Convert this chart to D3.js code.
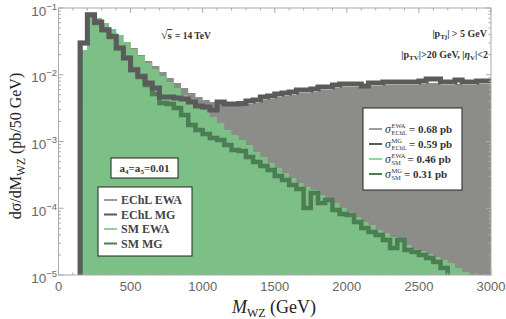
<!DOCTYPE html>
<html><head><meta charset="utf-8">
<script src="https://cdn.jsdelivr.net/npm/d3@7"></script>
<style>body{margin:0;background:#fff}svg{display:block}</style>
</head><body>
<svg id="chart" width="506" height="319"></svg>
<script>
// ── data: dσ/dM_WZ per 50 GeV bin, bins start at 150 GeV ──
const BIN=50;
const binLow=d3.range(150,3000,BIN);
const echlEWA=[0.0235,0.0759,0.0708,0.0596,0.0484,0.0394,0.0310,0.0252,0.0198,0.0161,
  0.0135,0.0110,0.00893,0.00752,0.00632,0.00533,0.00465,0.00418,0.00391,0.00365,
  0.00352,0.00352,0.00352,0.00365,0.00378,0.00418,0.00434,0.00465,0.00481,0.00497,
  0.00533,0.00533,0.00552,0.00591,0.00591,0.00632,0.00655,0.00655,0.00655,0.00655,
  0.00678,0.00678,0.00702,0.00702,0.00702,0.00702,0.00702,0.00727,0.00752,0.00752,
  0.00702,0.00702,0.00727,0.00702,0.00702,0.00727,0.00727];
const echlMG=[0.0299,0.0794,0.0617,0.0473,0.0377,0.0252,0.0178,0.0119,0.00948,0.00752,
  0.00632,0.00465,0.00465,0.00449,0.00434,0.00391,0.00341,0.00329,0.00296,0.00391,
  0.00365,0.00365,0.00370,0.00405,0.00418,0.00465,0.00481,0.00515,0.00533,0.00550,
  0.00591,0.00591,0.00612,0.00655,0.00655,0.00702,0.00727,0.00727,0.00727,0.00678,
  0.00752,0.00752,0.00778,0.00778,0.00778,0.00778,0.00778,0.00805,0.00863,0.00863,
  0.00778,0.00778,0.00834,0.00778,0.00778,0.00805,0.00805];
const smEWA=[0.0235,0.0759,0.0708,0.0596,0.0484,0.0394,0.0310,0.0243,0.0191,0.0150,
  0.0122,0.00957,0.00778,0.00632,0.00497,0.00419,0.00352,0.00296,0.00233,0.00189,
  0.00149,0.00125,0.00105,0.000887,0.000697,0.000586,0.000476,0.000401,0.000337,0.000284,
  0.000239,0.000208,0.000188,0.000158,0.000133,0.000120,0.000101,0.0000879,0.0000740,0.0000622,
  0.0000561,0.0000472,0.0000426,0.0000371,0.0000334,0.0000281,0.0000245,0.0000229,0.0000206,0.0000186,
  0.0000168,0.0000151,0.0000127,0.0000111];
const smMG=[0.0299,0.0785,0.0596,0.0468,0.0368,0.0252,0.0178,0.0118,0.00925,0.00702,
  0.00515,0.00378,0.00365,0.00318,0.00250,0.00177,0.00149,0.00129,0.00113,0.00105,
  0.000887,0.000746,0.000721,0.000586,0.000493,0.000430,0.000374,0.000304,0.000265,0.000223,
  0.000194,0.000101,0.000169,0.000120,0.000133,0.0000942,0.0000820,0.0000792,0.0000622,0.0000506,
  0.0000441,0.0000397,0.0000334,0.0000254,0.0000334,0.0000237,0.0000221,0.0000200,0.0000180,0.0000157,
  0.0000127];
const xTicks=[0,500,1000,1500,2000,2500,3000];
const yTicks=[1e-5,1e-4,1e-3,1e-2,1e-1];
const yExp=['−5','−4','−3','−2','−1'];
const legendNames=['EChL EWA','EChL MG','SM EWA','SM MG'];
const sigmaSup=['EWA','MG','EWA','MG'];
const sigmaSub=['EChL','EChL','SM','SM'];
const sigmaVal=['0.68','0.59','0.46','0.31'];

// ── layout / style ──
const M={l:58.5,r:491,t:8,b:275};
const COL={grayFill:'#8c8c89',greenFill:'#7cbf87',echlMG:'#5b5b5b',smMG:'#4d7d52',
  frame:'#aaaaaa',tick:'#666',legEWA:'#9c9c9c',legSMEWA:'#8fd49a'};
const SERIF='"Liberation Serif","DejaVu Serif",serif';
const SANS='"Liberation Sans",Arial,sans-serif';
const FLOOR=1e-6;

const svg=d3.select('#chart');
const x=d3.scaleLinear().domain([0,3000]).range([M.l,M.r]);
const y=d3.scaleLog().domain([1e-5,1e-1]).range([M.b,M.t]);

svg.append('clipPath').attr('id','plot').append('rect')
  .attr('x',M.l).attr('y',M.t).attr('width',M.r-M.l).attr('height',M.b-M.t);

function steps(vals){
  const pts=vals.map((v,i)=>[binLow[i],v]);
  pts.push([binLow[vals.length-1]+BIN,vals[vals.length-1]]);
  return pts;
}
const area=d3.area().curve(d3.curveStepAfter).x(d=>x(d[0])).y0(M.b).y1(d=>y(d[1]));
const line=d3.line().curve(d3.curveStepAfter).x(d=>x(d[0])).y(d=>y(d[1]));

const g=svg.append('g').attr('clip-path','url(#plot)');
g.append('path').attr('d',area(steps(echlEWA))).attr('fill',COL.grayFill);
g.append('path').attr('d',area(steps(smEWA))).attr('fill',COL.greenFill);
// MG lines rise from below the axis; SM MG drops back down where it ends
const smPts=[[binLow[0],FLOOR],...steps(smMG)];
smPts.push([smPts[smPts.length-1][0],FLOOR]);
g.append('path').attr('d',line(smPts)).attr('fill','none')
  .attr('stroke',COL.smMG).attr('stroke-width',4.5);
g.append('path').attr('d',line([[binLow[0],FLOOR],...steps(echlMG)])).attr('fill','none')
  .attr('stroke',COL.echlMG).attr('stroke-width',5);

// ── frame + ticks on all four sides ──
const fr=svg.append('g').attr('stroke',COL.frame).attr('fill','none');
fr.append('rect').attr('x',M.l).attr('y',M.t).attr('width',M.r-M.l).attr('height',M.b-M.t);
d3.range(0,3001,100).forEach(v=>{
  const len=v%500===0?5:2.5, px=x(v);
  fr.append('line').attr('x1',px).attr('x2',px).attr('y1',M.b).attr('y2',M.b-len);
  fr.append('line').attr('x1',px).attr('x2',px).attr('y1',M.t).attr('y2',M.t+len);
});
yTicks.forEach(d=>{
  for(let k=1;k<10;k++){
    const v=d*k; if(v>0.1+1e-12)break;
    const len=k===1?5:2.5, py=y(v);
    fr.append('line').attr('x1',M.l).attr('x2',M.l+len).attr('y1',py).attr('y2',py);
    fr.append('line').attr('x1',M.r).attr('x2',M.r-len).attr('y1',py).attr('y2',py);
  }
});

// tick labels
svg.append('g').selectAll('text').data(xTicks).join('text')
  .attr('x',d=>x(d)).attr('y',291).attr('text-anchor','middle')
  .attr('font-family',SANS).attr('font-size',13).attr('fill',COL.tick).text(d=>d);
const yl=svg.append('g').selectAll('text').data(yTicks).join('text')
  .attr('x',57).attr('y',d=>y(d)+7.5).attr('text-anchor','end')
  .attr('font-family',SANS).attr('font-size',13.5).attr('fill',COL.tick);
yl.append('tspan').text('10');
yl.append('tspan').attr('dy',-6).attr('font-size',9.5).text((d,i)=>yExp[i]);

// axis titles
const yt=svg.append('text').attr('transform','translate(21,146) rotate(-90)')
  .attr('text-anchor','middle').attr('font-family',SERIF).attr('font-size',16).attr('fill','#222');
yt.append('tspan').text('dσ/dM');
yt.append('tspan').attr('dy',4).attr('font-size',11.5).text('WZ');
yt.append('tspan').attr('dy',-4).text(' (pb/50 GeV)');
const xt=svg.append('text').attr('x',274).attr('y',313).attr('text-anchor','middle')
  .attr('font-family',SERIF).attr('font-size',18).attr('fill','#222');
xt.append('tspan').attr('font-style','italic').text('M');
xt.append('tspan').attr('dy',4).attr('font-size',12).text('WZ');
xt.append('tspan').attr('dy',-4).text(' (GeV)');

// helper: one text run, returns its right edge
function run(parent,px,py,str,o){
  const t=parent.append('text').attr('x',px).attr('y',py).text(str)
    .attr('font-family',SERIF).attr('font-size',o.size).attr('fill',o.fill||'#333')
    .attr('font-weight',o.weight||'bold').attr('font-style',o.style||'normal');
  return px+t.node().getComputedTextLength();
}

// annotations
const ann=svg.append('g');
let cx=run(ann,161,39,'√',{size:12,weight:'normal'});
const sx=cx; cx=run(ann,cx,39,'s',{size:11});
ann.append('line').attr('x1',sx-0.5).attr('x2',cx+0.5).attr('y1',29.5).attr('y2',29.5).attr('stroke','#333');
run(ann,cx+3,39,'= 14 TeV',{size:9.5});
{
  const t=ann.append('text').attr('x',487).attr('y',37).attr('text-anchor','end')
    .attr('font-family',SERIF).attr('font-size',10).attr('font-weight','bold').attr('fill','#333');
  t.append('tspan').text('|p');t.append('tspan').attr('dy',2).attr('font-size',7).text('Tj');
  t.append('tspan').attr('dy',-2).text('| > 5 GeV');
  const t2=ann.append('text').attr('x',488).attr('y',58).attr('text-anchor','end')
    .attr('font-family',SERIF).attr('font-size',10).attr('font-weight','bold').attr('fill','#333');
  t2.append('tspan').text('|p');t2.append('tspan').attr('dy',2).attr('font-size',7).text('TV');
  t2.append('tspan').attr('dy',-2).text('|>20 GeV, |');
  t2.append('tspan').attr('font-style','italic').text('η');
  t2.append('tspan').attr('dy',2).attr('font-size',7).text('V');
  t2.append('tspan').attr('dy',-2).text('|<2');
}

// a4=a5 box
svg.append('rect').attr('x',111).attr('y',158).attr('width',67).attr('height',20)
  .attr('fill','#fff').attr('stroke','#222');
{
  const t=svg.append('text').attr('x',144.5).attr('y',172).attr('text-anchor','middle')
    .attr('font-family',SERIF).attr('font-size',11).attr('font-weight','bold').attr('fill','#333');
  t.append('tspan').text('a');t.append('tspan').attr('dy',2).attr('font-size',7).text('4');
  t.append('tspan').attr('dy',-2).text('=a');t.append('tspan').attr('dy',2).attr('font-size',7).text('5');
  t.append('tspan').attr('dy',-2).text('=0.01');
}

// left legend
const legCols=[COL.legEWA,COL.echlMG,COL.legSMEWA,COL.smMG];
const lg=svg.append('g');
lg.append('rect').attr('x',98).attr('y',187).attr('width',94).attr('height',69)
  .attr('fill','#fff').attr('stroke','#222');
legendNames.forEach((n,i)=>{
  const ry=200+i*14.5;
  lg.append('line').attr('x1',104).attr('x2',117).attr('y1',ry).attr('y2',ry)
    .attr('stroke',legCols[i]).attr('stroke-width',2);
  run(lg,121,ry+4,n,{size:12,fill:'#444'});
});

// right legend (cross sections)
const rg=svg.append('g');
rg.append('rect').attr('x',363).attr('y',108).attr('width',99).attr('height',82)
  .attr('fill','#fff').attr('stroke','#222');
sigmaVal.forEach((v,i)=>{
  const ry=129+i*15;
  rg.append('line').attr('x1',369).attr('x2',382).attr('y1',ry).attr('y2',ry)
    .attr('stroke',legCols[i]).attr('stroke-width',2);
  let px=run(rg,385,ry+4,'σ',{size:12,style:'italic',weight:'normal',fill:'#333'});
  const a=run(rg,px+0.5,ry-1,sigmaSup[i],{size:6.5,weight:'normal'});
  const b=run(rg,px+0.5,ry+6,sigmaSub[i],{size:6.5,weight:'normal'});
  run(rg,Math.max(a,b)+2,ry+4,'= '+v+' pb',{size:11,fill:'#333'});
});
</script></body></html>
